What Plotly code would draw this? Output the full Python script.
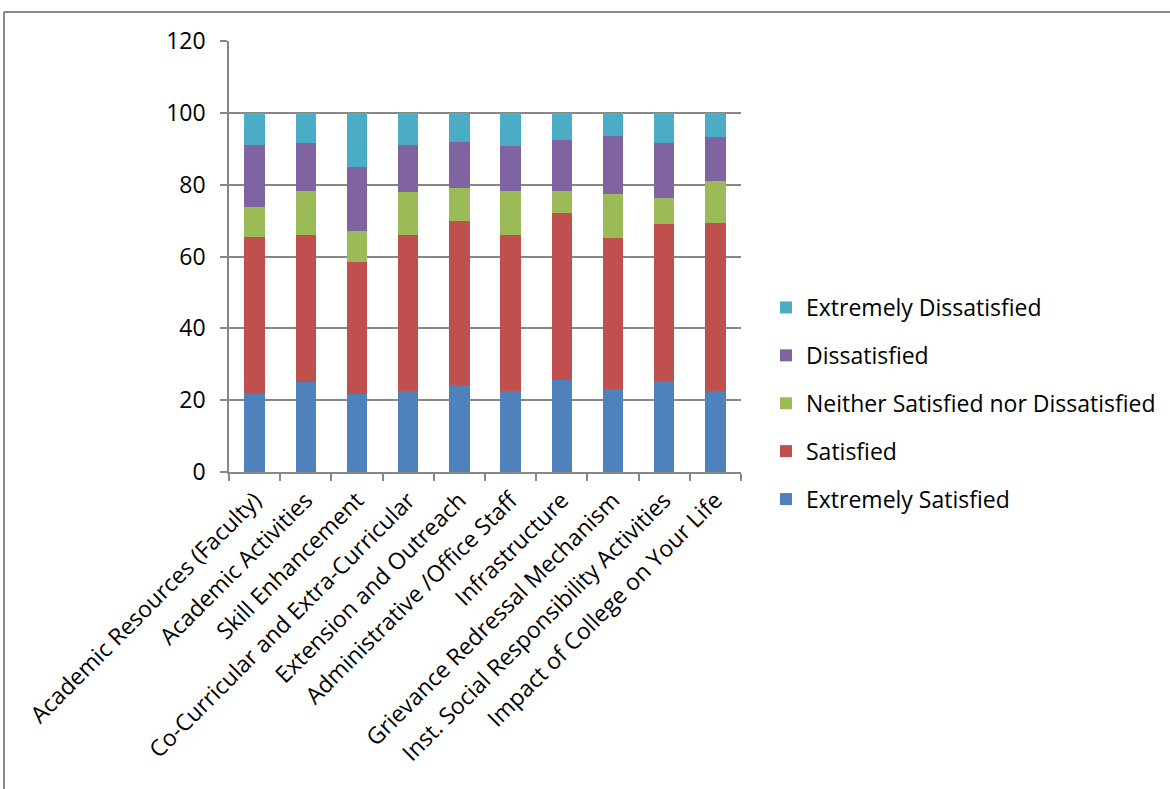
import plotly.graph_objects as go

categories = [
    "Academic Resources (Faculty)",
    "Academic Activities",
    "Skill Enhancement",
    "Co-Curricular and Extra-Curricular",
    "Extension and Outreach",
    "Administrative /Office Staff",
    "Infrastructure",
    "Grievance Redressal Mechanism",
    "Inst. Social Responsibility Activities",
    "Impact of College on Your Life",
]

extremely_satisfied = [22.0, 25.1, 21.6, 22.65, 24.2, 22.5, 25.7, 23.1, 25.4, 22.65]
satisfied = [43.55, 41.0, 36.9, 43.45, 45.6, 43.4, 46.4, 42.0, 43.6, 46.65]
neither = [8.15, 12.1, 8.7, 11.9, 9.2, 12.4, 6.1, 12.2, 7.4, 11.6]
dissatisfied = [17.3, 13.35, 17.7, 13.0, 12.8, 12.6, 14.3, 16.2, 15.1, 12.4]
extremely_dissatisfied = [9.0, 8.45, 15.1, 9.0, 8.2, 9.1, 7.5, 6.5, 8.5, 6.7]

series = [
    ("Extremely Satisfied", extremely_satisfied, "#4F81BD"),
    ("Satisfied", satisfied, "#C0504D"),
    ("Neither Satisfied nor Dissatisfied", neither, "#9BBB59"),
    ("Dissatisfied", dissatisfied, "#8064A2"),
    ("Extremely Dissatisfied", extremely_dissatisfied, "#4BACC6"),
]

FONT = "Open Sans"
FS = 23

fig = go.Figure()
for i, (name, vals, color) in enumerate(series):
    fig.add_trace(go.Bar(
        x=categories, y=vals, name=name, legendgroup=name,
        legendrank=1000 - i,
        marker=dict(color=color, line=dict(width=0)),
    ))

W, H = 1170, 789
L, R, T, B = 229, 741, 41, 472

fig.update_layout(
    width=W, height=H,
    barmode="stack", bargap=0.6,
    paper_bgcolor="white", plot_bgcolor="white",
    margin=dict(l=L, r=W - R, t=T, b=H - B, autoexpand=False),
    font=dict(family=FONT, size=FS, color="black"),
    legend=dict(
        x=(766 - L) / (R - L), y=(B - 286) / (B - T), xanchor="left", yanchor="top",
        traceorder="grouped", tracegroupgap=15,
        font=dict(family=FONT, size=FS, color="black"),
        itemwidth=30,
    ),
    showlegend=True,
)

fig.update_yaxes(
    range=[0, 120], dtick=20, showgrid=True, gridcolor="#878787", gridwidth=1.5,
    showline=True, linecolor="#878787", linewidth=1.5,
    ticks="outside", ticklen=7, tickcolor="#878787", tickwidth=1.5,
    ticklabelstandoff=10, zeroline=False,
    tickfont=dict(family=FONT, size=FS, color="black"),
)
fig.update_xaxes(
    showline=True, linecolor="#878787", linewidth=1.5,
    ticks="outside", ticklen=7, tickcolor="#878787", tickwidth=1.5,
    tickson="boundaries", tickangle=-45, showgrid=False,
    ticklabelstandoff=4,
    tickfont=dict(family=FONT, size=FS, color="black"),
)

# outer chart frame (only top and left edges visible in the picture)
fx0 = (4 - L) / (R - L)
fy1 = (B - 12) / (B - T)
fig.add_shape(type="line", xref="paper", yref="paper", x0=fx0, x1=(W + 20 - L) / (R - L),
              y0=fy1, y1=fy1, line=dict(color="#888888", width=2))
fig.add_shape(type="line", xref="paper", yref="paper", x0=fx0, x1=fx0,
              y0=fy1, y1=(B - H - 20) / (B - T), line=dict(color="#888888", width=2))

fig.write_html("out.html", config={"displayModeBar": False},
               post_script="document.body.style.margin='0px';")
